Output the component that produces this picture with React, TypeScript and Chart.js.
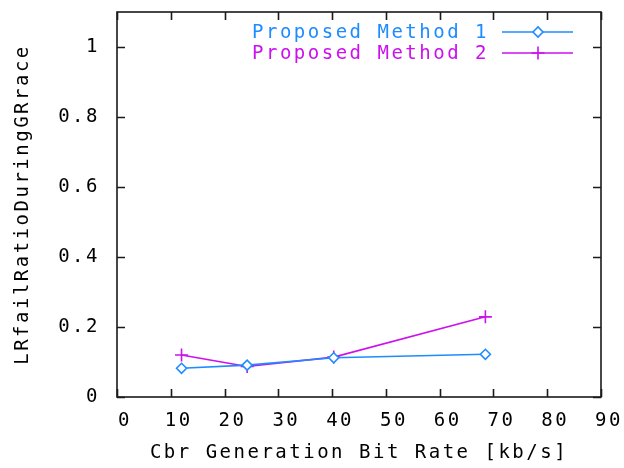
import React, { useEffect, useRef } from 'react';
import { Chart, registerables } from 'chart.js';

Chart.register(...registerables);

const bitRates = [12.0, 24.2, 40.3, 68.5];
const method1 = [0.082, 0.091, 0.112, 0.122];
const method2 = [0.12, 0.087, 0.114, 0.229];
const seriesNames = ['Proposed Method 1', 'Proposed Method 2'];
const seriesColors = ['#1e8cff', '#cc11ee'];
const xTitle = 'Cbr Generation Bit Rate [kb/s]';
const yTitle = 'LRfailRatioDuringGRrace';

const FONT = "'DejaVu Sans Mono', monospace";
const FSIZE = 19;
const SPACING = '2.5px';

const framePlugin = {
  id: 'gnuFrame',
  beforeUpdate(chart: any) {
    chart.ctx.letterSpacing = SPACING;
  },
  beforeDraw(chart: any) {
    chart.ctx.letterSpacing = SPACING;
  },
  afterDatasetsDraw(chart: any) {
    const { ctx, chartArea: a, scales } = chart;
    ctx.save();
    ctx.strokeStyle = '#1a1a1a';
    ctx.lineWidth = 1.6;
    ctx.strokeRect(a.left, a.top, a.right - a.left, a.bottom - a.top);
    const L = 8;
    ctx.beginPath();
    scales.x.ticks.forEach((t: any) => {
      const px = Math.round(scales.x.getPixelForValue(t.value)) + 0.5;
      ctx.moveTo(px, a.bottom);
      ctx.lineTo(px, a.bottom - L);
      ctx.moveTo(px, a.top);
      ctx.lineTo(px, a.top + L);
    });
    scales.y.ticks.forEach((t: any) => {
      const py = Math.round(scales.y.getPixelForValue(t.value)) + 0.5;
      ctx.moveTo(a.left, py);
      ctx.lineTo(a.left + L, py);
      ctx.moveTo(a.right, py);
      ctx.lineTo(a.right - L, py);
    });
    ctx.stroke();

    // legend (inside the plot, top right)
    ctx.font = `${FSIZE}px ${FONT}`;
    ctx.letterSpacing = SPACING;
    ctx.textAlign = 'right';
    ctx.textBaseline = 'middle';
    chart.data.datasets.forEach((ds: any, i: number) => {
      const y = a.top + 20 + i * 21;
      const color = ds.borderColor;
      ctx.fillStyle = color;
      ctx.fillText(ds.label, a.right - 112, y + 1);
      ctx.strokeStyle = color;
      ctx.lineWidth = 1.6;
      ctx.beginPath();
      ctx.moveTo(a.right - 99, y);
      ctx.lineTo(a.right - 28, y);
      ctx.stroke();
      const cx = a.right - 63;
      ctx.beginPath();
      if (i === 0) {
        const r = 5;
        ctx.moveTo(cx - r, y);
        ctx.lineTo(cx, y - r);
        ctx.lineTo(cx + r, y);
        ctx.lineTo(cx, y + r);
        ctx.closePath();
        ctx.fillStyle = '#ffffff';
        ctx.fill();
        ctx.stroke();
      } else {
        const r = 6.5;
        ctx.moveTo(cx - r, y);
        ctx.lineTo(cx + r, y);
        ctx.moveTo(cx, y - r);
        ctx.lineTo(cx, y + r);
        ctx.stroke();
      }
    });
    ctx.restore();
  },
};

export default function App() {
  const ref = useRef<HTMLCanvasElement | null>(null);

  useEffect(() => {
    if (!ref.current) return;
    const chart = new Chart(ref.current, {
      type: 'line',
      data: {
        datasets: [
          {
            label: seriesNames[0],
            data: bitRates.map((x, i) => ({ x, y: method1[i] })),
            borderColor: seriesColors[0],
            backgroundColor: '#ffffff',
            pointBackgroundColor: '#ffffff',
            borderWidth: 1.6,
            pointStyle: 'rectRot',
            pointRadius: 5,
            pointBorderWidth: 1.6,
            tension: 0,
          },
          {
            label: seriesNames[1],
            data: bitRates.map((x, i) => ({ x, y: method2[i] })),
            borderColor: seriesColors[1],
            backgroundColor: seriesColors[1],
            borderWidth: 1.6,
            pointStyle: 'cross',
            pointRadius: 6.5,
            pointBorderWidth: 1.6,
            tension: 0,
          },
        ],
      },
      options: {
        animation: false,
        responsive: true,
        maintainAspectRatio: false,
        layout: { padding: { top: 12, right: 23, left: 0, bottom: 0 } },
        plugins: {
          legend: { display: false },
          tooltip: { enabled: false },
        },
        scales: {
          x: {
            type: 'linear',
            min: 0,
            max: 90,
            grid: { display: false, drawTicks: false },
            border: { display: false },
            ticks: {
              stepSize: 10,
              padding: 13,
              labelOffset: 8,
              color: '#000',
              maxRotation: 0,
              autoSkip: false,
              font: { family: FONT, size: FSIZE },
            },
            title: {
              display: true,
              text: xTitle,
              color: '#000',
              font: { family: FONT, size: FSIZE },
              padding: { top: 0, bottom: 4 },
            },
            afterFit(scale: any) {
              scale.height = 71;
              scale.paddingLeft = 0;
              scale.paddingRight = 0;
            },
          },
          y: {
            type: 'linear',
            min: 0,
            max: 1.1,
            grid: { display: false, drawTicks: false },
            border: { display: false },
            ticks: {
              stepSize: 0.2,
              padding: 17,
              color: '#000',
              font: { family: FONT, size: FSIZE },
              callback: (v: any) => String(Number(Number(v).toFixed(2))),
            },
            afterBuildTicks(scale: any) {
              scale.ticks = scale.ticks.filter((t: any) => t.value <= 1.0001);
            },
            title: {
              display: true,
              text: yTitle,
              color: '#000',
              font: { family: FONT, size: FSIZE },
              padding: { top: 12, bottom: 0 },
            },
            afterFit(scale: any) {
              scale.width = 117;
              scale.paddingTop = 0;
              scale.paddingBottom = 0;
            },
          },
        },
      },
      plugins: [framePlugin],
    } as any);
    return () => chart.destroy();
  }, []);

  return (
    <div style={{ position: 'fixed', left: 0, top: 0, width: 624, height: 468, background: '#fff' }}>
      <canvas ref={ref} />
    </div>
  );
}
